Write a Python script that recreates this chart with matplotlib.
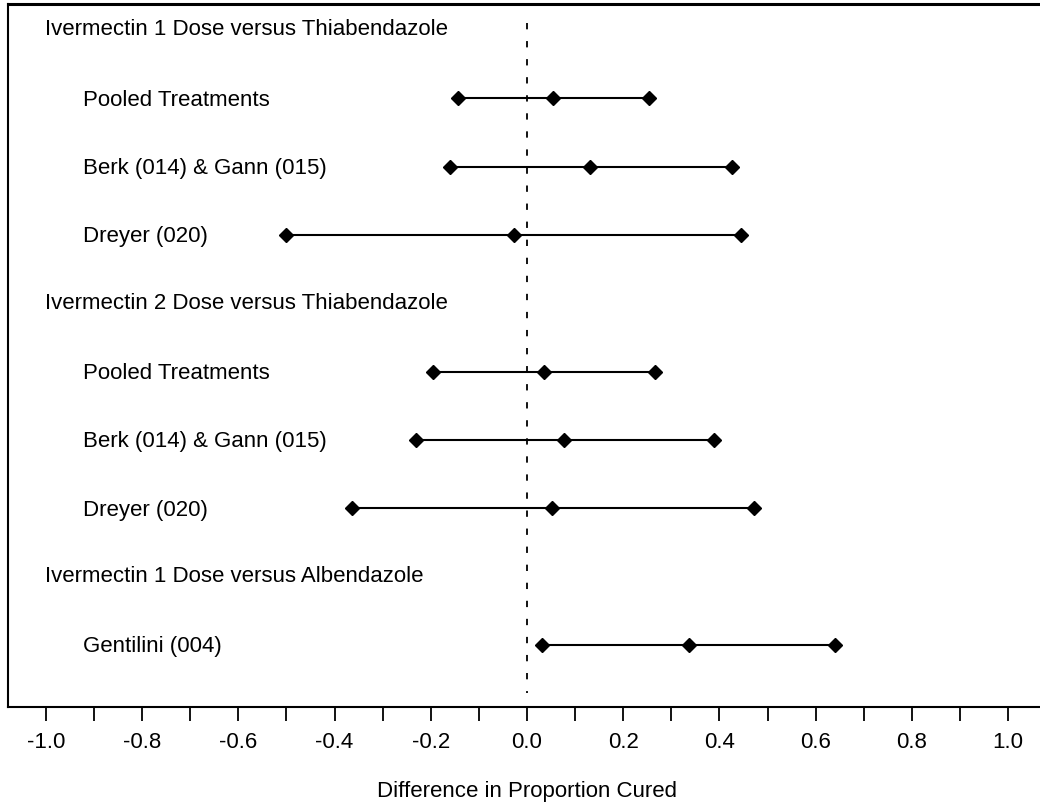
import matplotlib.pyplot as plt
import numpy as np

plt.rcParams['font.family'] = ['Liberation Sans', 'DejaVu Sans']

# row labels, top to bottom; headings carry no interval
headings = ['Ivermectin 1 Dose versus Thiabendazole',
            'Ivermectin 2 Dose versus Thiabendazole',
            'Ivermectin 1 Dose versus Albendazole']
heading_rows = [0, 4, 8]

studies = ['Pooled Treatments', 'Berk (014) & Gann (015)', 'Dreyer (020)',
           'Pooled Treatments', 'Berk (014) & Gann (015)', 'Dreyer (020)',
           'Gentilini (004)']
study_rows = [1, 2, 3, 5, 6, 7, 9]

# difference in proportion cured: lower limit, estimate, upper limit
lower = [-0.143, -0.161, -0.501, -0.195, -0.230, -0.364, 0.031]
estimate = [0.054, 0.130, -0.028, 0.035, 0.076, 0.053, 0.336]
upper = [0.254, 0.426, 0.445, 0.267, 0.388, 0.471, 0.640]

tick_values = [-1.0, -0.8, -0.6, -0.4, -0.2, 0.0, 0.2, 0.4, 0.6, 0.8, 1.0]
minor_values = [-0.9, -0.7, -0.5, -0.3, -0.1, 0.1, 0.3, 0.5, 0.7, 0.9]

fig = plt.figure(figsize=(10.4, 8.09), dpi=100)
ax = fig.add_axes([7.5 / 1040, 102 / 809, 1039 / 1040, 703 / 809])

for r, lo, est, hi in zip(study_rows, lower, estimate, upper):
    ax.plot([lo, hi], [r, r], color='black', lw=1.5, zorder=3)
    ax.plot([lo, est, hi], [r, r, r], ls='none', marker='D', ms=7,
            color='black', zorder=4)

for r, txt in zip(heading_rows, headings):
    ax.text(-1.002, r, txt, ha='left', va='center', fontsize=16)
for r, txt in zip(study_rows, studies):
    ax.text(-0.923, r + 0.03, txt, ha='left', va='center', fontsize=16)

# reference line at no difference
ax.vlines(0, -0.1, 9.7, color='black', lw=1.3, linestyles=[(0, (3.5, 6.5))])

ax.set_xlim(-1.08, 1.08)
ax.set_ylim(9.91, -0.38)
ax.set_yticks([])

ax.set_xticks(tick_values)
ax.set_xticklabels([f'{v:.1f}' for v in tick_values])
ax.set_xticks(minor_values, minor=True)
ax.tick_params(axis='x', which='both', direction='out', length=10,
               width=1.3, pad=8, labelsize=16)
ax.set_xlabel('Difference in Proportion Cured', fontsize=16, labelpad=20)

for s in ax.spines.values():
    s.set_linewidth(1.5)
ax.spines['top'].set_linewidth(2.2)

fig.savefig('out.png', dpi=100)
